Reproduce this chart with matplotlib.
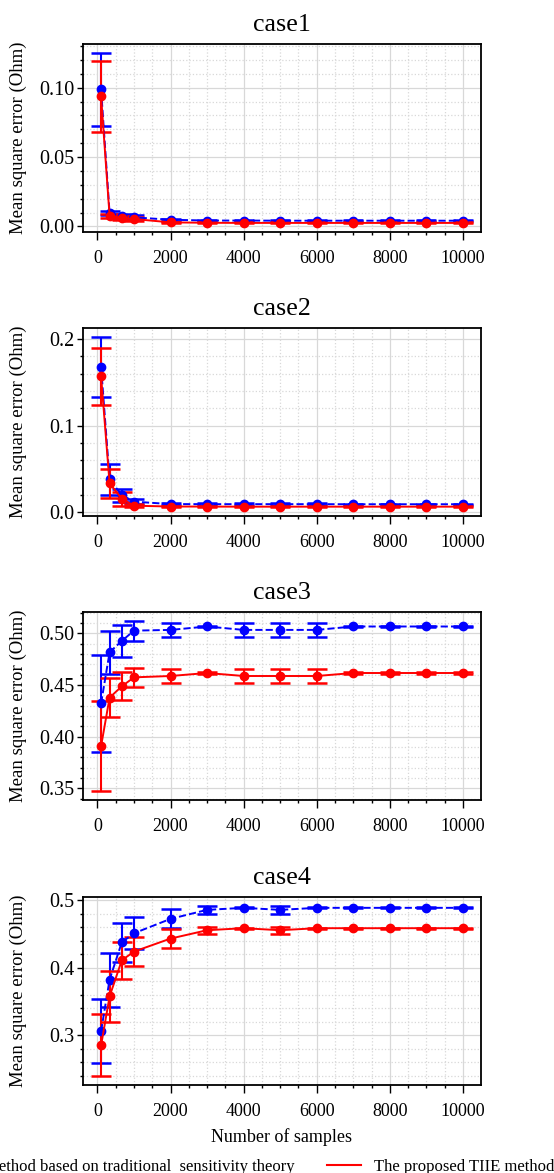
import matplotlib
matplotlib.use('Agg')
import matplotlib.pyplot as plt
from matplotlib.lines import Line2D
from matplotlib.ticker import MultipleLocator

plt.rcParams['font.family'] = ['Liberation Serif', 'DejaVu Serif']

# ---------- Data ---------- #
samples = [100, 333, 667, 1000, 2000, 3000, 4000, 5000, 6000, 7000, 8000, 9000, 10000]

case_titles = ['case1', 'case2', 'case3', 'case4']

trad_mean = [
    [0.0988, 0.0096, 0.0075, 0.0065, 0.0048, 0.0042, 0.0042, 0.0041, 0.0041, 0.0041, 0.0041, 0.0041, 0.0041],
    [0.168, 0.038, 0.020, 0.0124, 0.0096, 0.0095, 0.0095, 0.0095, 0.0095, 0.0094, 0.0094, 0.0094, 0.0094],
    [0.4321, 0.4816, 0.4925, 0.5025, 0.5032, 0.5065, 0.5032, 0.5032, 0.5032, 0.5065, 0.5065, 0.5065, 0.5065],
    [0.3063, 0.3826, 0.438, 0.4514, 0.4727, 0.4861, 0.4891, 0.4861, 0.4891, 0.4891, 0.4891, 0.4891, 0.4891],
]
trad_err = [
    [0.0265, 0.0015, 0.0015, 0.0015, 0.0008, 0.0005, 0.0005, 0.0005, 0.0005, 0.0005, 0.0005, 0.0005, 0.0005],
    [0.035, 0.0175, 0.0075, 0.003, 0.0012, 0.0008, 0.0008, 0.0008, 0.0008, 0.0008, 0.0008, 0.0008, 0.0008],
    [0.047, 0.021, 0.0155, 0.0098, 0.007, 0.0005, 0.007, 0.007, 0.007, 0.0005, 0.0005, 0.0005, 0.0005],
    [0.048, 0.040, 0.0287, 0.024, 0.014, 0.0064, 0.0005, 0.0064, 0.0005, 0.0005, 0.0005, 0.0005, 0.0005],
]

tiie_mean = [
    [0.0937, 0.0076, 0.006, 0.0053, 0.0029, 0.0026, 0.0025, 0.0025, 0.0025, 0.0025, 0.0025, 0.0025, 0.0025],
    [0.157, 0.0335, 0.0158, 0.0077, 0.0068, 0.0067, 0.0066, 0.0066, 0.0066, 0.0066, 0.0066, 0.0066, 0.0066],
    [0.3907, 0.4377, 0.4486, 0.4573, 0.4586, 0.4615, 0.4586, 0.4586, 0.4586, 0.4615, 0.4615, 0.4615, 0.4615],
    [0.285, 0.3578, 0.4113, 0.4242, 0.4435, 0.4559, 0.4589, 0.4559, 0.4589, 0.4589, 0.4589, 0.4589, 0.4589],
]
tiie_err = [
    [0.0255, 0.0012, 0.0012, 0.0012, 0.0006, 0.0004, 0.0004, 0.0004, 0.0004, 0.0004, 0.0004, 0.0004, 0.0004],
    [0.033, 0.017, 0.008, 0.002, 0.001, 0.0007, 0.0007, 0.0007, 0.0007, 0.0007, 0.0007, 0.0007, 0.0007],
    [0.0438, 0.019, 0.0136, 0.009, 0.0066, 0.0005, 0.0066, 0.0066, 0.0066, 0.0005, 0.0005, 0.0005, 0.0005],
    [0.046, 0.038, 0.027, 0.022, 0.014, 0.005, 0.0005, 0.005, 0.0005, 0.0005, 0.0005, 0.0005, 0.0005],
]

y_major = [0.05, 0.1, 0.05, 0.1]
y_minor = [0.01, 0.02, 0.01, 0.02]

trad_label = 'The method based on traditional  sensitivity theory'
tiie_label = 'The proposed TIIE method'

# ---------- Figure ---------- #
fig = plt.figure(figsize=(5.54, 11.73), dpi=100)
bottoms = [0.8022, 0.5601, 0.318, 0.075]

for i in range(4):
    ax = fig.add_axes([0.1498, bottoms[i], 0.7184, 0.1603])
    ax.errorbar(samples, trad_mean[i], yerr=trad_err[i], color='blue',
                linestyle='--', marker='o', markersize=6, linewidth=1.4,
                elinewidth=1.5, capsize=7.5, capthick=1.8)
    ax.errorbar(samples, tiie_mean[i], yerr=tiie_err[i], color='red',
                linestyle='-', marker='o', markersize=6, linewidth=1.4,
                elinewidth=1.5, capsize=7.5, capthick=1.8)

    ax.set_title(case_titles[i], fontsize=18.7, pad=9)
    ax.set_ylabel('Mean square error (Ohm)', fontsize=13.5)
    ax.yaxis.set_label_coords(-0.14, 0.5)
    ax.yaxis.set_major_locator(MultipleLocator(y_major[i]))
    ax.yaxis.set_minor_locator(MultipleLocator(y_minor[i]))
    ax.xaxis.set_major_locator(MultipleLocator(2000))
    ax.xaxis.set_minor_locator(MultipleLocator(500))
    ax.grid(which='major', color='#d8d8d8', linestyle='-', linewidth=0.9)
    ax.grid(which='minor', color='#d8d8d8', linestyle=':', linewidth=0.9)
    ax.set_axisbelow(True)
    ax.tick_params(axis='x', which='major', direction='out', length=5.5, width=1,
                   labelsize=13, pad=7.5)
    ax.tick_params(axis='y', which='major', direction='out', length=4.5, width=1,
                   labelsize=14.5, pad=1.5)
    ax.tick_params(which='minor', direction='out', length=2.5, width=1)
    for s in ax.spines.values():
        s.set_linewidth(1.3)
    if i == 3:
        ax.set_xlabel('Number of samples', fontsize=13, labelpad=5.5)

# legend shows plain line handles, runs off the left edge like the original
h1 = Line2D([], [], color='blue', linestyle='--', linewidth=1.5)
h2 = Line2D([], [], color='red', linestyle='-', linewidth=1.5)
fig.legend(handles=[h1, h2], labels=[trad_label, tiie_label],
           loc='center right', bbox_to_anchor=(1.028, 0.005), ncol=2, frameon=False,
           fontsize=12)

fig.savefig('out.png', dpi=100)
